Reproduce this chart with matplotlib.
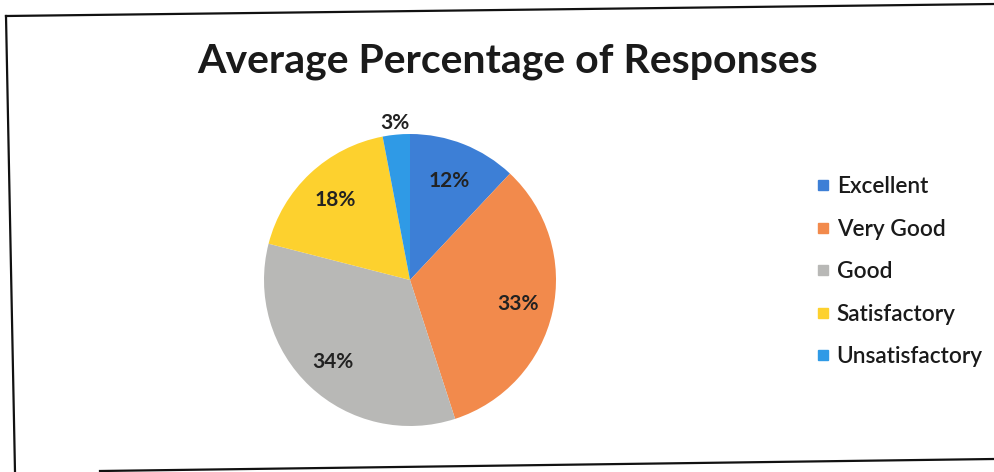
import matplotlib
matplotlib.use("Agg")
import matplotlib.pyplot as plt
from matplotlib.lines import Line2D
import numpy as np

categories = ["Excellent", "Very Good", "Good", "Satisfactory", "Unsatisfactory"]
values = [12, 33, 34, 18, 3]
colors = ["#3d7fd6", "#f28a4c", "#b8b8b6", "#fdd12e", "#2f9ae6"]
title = "Average Percentage of Responses"

W, H = 994, 472
plt.rcParams['font.family'] = ['Lato', 'DejaVu Sans']
fig = plt.figure(figsize=(W / 100, H / 100), dpi=100)
fig.patch.set_facecolor("white")

def fx(x): return x / W
def fy(y): return 1 - y / H

# scanned frame lines
for (x0, y0, x1, y1) in [(6, 16, 994, 4), (6, 16, 15, 472), (100, 471, 994, 459)]:
    fig.add_artist(Line2D([fx(x0), fx(x1)], [fy(y0), fy(y1)], color="#111111", lw=1.6))

fig.text(fx(508), fy(62), title, ha="center", va="center", fontsize=29.5,
         fontweight="bold", color="#1a1a1a")

cx, cy, r = 410, 280, 146
ax = fig.add_axes([fx(cx - r), fy(cy + r), 2 * r / W, 2 * r / H])
wedges, _ = ax.pie(values, colors=colors, startangle=90, counterclock=False,
                   wedgeprops=dict(edgecolor="none"))
ax.set_xlim(-1, 1)
ax.set_ylim(-1, 1)
ax.set_aspect("equal")
ax.axis("off")

dists = [0.73, 0.76, 0.77, 0.75, 1.08]
for w, v, d in zip(wedges, values, dists):
    ang = np.deg2rad((w.theta1 + w.theta2) / 2)
    ax.text(d * np.cos(ang), d * np.sin(ang), f"{v}%", ha="center", va="center",
            fontsize=15, fontweight="bold", color="#222222")

handles = [Line2D([], [], marker="s", linestyle="none", markersize=7.5,
                  markerfacecolor=c, markeredgecolor=c) for c in colors]
fig.legend(handles, categories, loc="upper left", bbox_to_anchor=(fx(805), fy(165)),
           frameon=False, labelspacing=0.95, handlelength=0.6,
           handletextpad=0.3, borderpad=0, labelcolor="#1a1a1a",
           prop=dict(family=["Lato", "DejaVu Sans"], weight="semibold", size=16.3))

fig.savefig("out.png", dpi=100)
